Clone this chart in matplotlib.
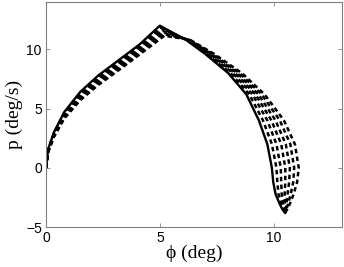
import matplotlib
matplotlib.use("Agg")
import matplotlib.pyplot as plt

# rising branch: shared phi samples (deg), p (deg/s) per run
phi_rise = [0, 0.1, 0.35, 0.8, 1.5, 2.3, 3.2, 4.1]
p_rise_solid = [0, 1.6, 3.0, 4.7, 6.4, 7.8, 9.1, 10.4]
p_rise_dashed = [
    [0, 1.56, 2.93, 4.61, 6.28, 7.67, 8.96, 10.26],
    [0, 1.52, 2.87, 4.52, 6.17, 7.53, 8.82, 10.12],
    [0, 1.48, 2.8, 4.43, 6.05, 7.4, 8.68, 9.98],
    [0, 1.43, 2.73, 4.33, 5.93, 7.27, 8.53, 9.83],
    [0, 1.39, 2.67, 4.24, 5.82, 7.13, 8.39, 9.69],
    [0, 1.35, 2.6, 4.15, 5.7, 7.0, 8.25, 9.55],
]

# switching point (peak) per run
peak_solid = (5.0, 12.0)
peak_phi_dashed = [5.03, 5.07, 5.1, 5.13, 5.17, 5.2]
peak_p_dashed = [11.86, 11.72, 11.58, 11.43, 11.29, 11.15]

# falling branch: shared p samples, phi per run
p_fall = [10.8, 9.6, 8.0, 6.2, 4.0, 2.0, 0.0, -1.2, -2.2, -3.0, -3.5, -3.8]
phi_fall_solid = [6.15, 7.0, 8.0, 8.8, 9.35, 9.72, 9.92, 9.98, 10.08, 10.25, 10.38, 10.5]
phi_fall_dashed = [
    [6.18, 7.07, 8.1, 8.93, 9.53, 9.92, 10.12, 10.16, 10.21, 10.33, 10.42, 10.5],
    [6.21, 7.13, 8.2, 9.07, 9.72, 10.12, 10.31, 10.33, 10.35, 10.41, 10.45, 10.5],
    [6.24, 7.2, 8.3, 9.2, 9.9, 10.33, 10.51, 10.51, 10.48, 10.49, 10.49, 10.5],
    [6.27, 7.27, 8.4, 9.33, 10.08, 10.53, 10.71, 10.68, 10.61, 10.56, 10.53, 10.5],
    [6.3, 7.33, 8.5, 9.47, 10.27, 10.73, 10.9, 10.86, 10.75, 10.64, 10.56, 10.5],
    [6.33, 7.4, 8.6, 9.6, 10.45, 10.93, 11.1, 11.03, 10.88, 10.72, 10.6, 10.5],
]


def plot_phase():
    plt.rcParams["lines.scale_dashes"] = False
    fig = plt.figure(figsize=(3.44, 2.67), dpi=100)
    ax = fig.add_axes([0.1337, 0.1498, 0.8605, 0.8427])

    for i in range(len(p_rise_dashed)):
        x = phi_rise + [peak_phi_dashed[i]] + phi_fall_dashed[i]
        y = p_rise_dashed[i] + [peak_p_dashed[i]] + p_fall
        ax.plot(x, y, color="k", lw=1.8, dashes=(3.2, 2.4))

    x = phi_rise + [peak_solid[0]] + phi_fall_solid
    y = p_rise_solid + [peak_solid[1]] + p_fall
    ax.plot(x, y, color="k", lw=1.7)

    ax.set_xlim([0, 13])
    ax.set_ylim([-5, 14])
    ax.set_xticks([0, 5, 10])
    ax.set_yticks([-5, 0, 5, 10])
    ax.tick_params(direction="in", length=3, width=0.6, color="#808080",
                   top=True, right=True, labelsize=10, pad=3)
    for lab in ax.get_xticklabels() + ax.get_yticklabels():
        lab.set_family(["Liberation Sans", "DejaVu Sans"])
    for s in ax.spines.values():
        s.set_color("#808080")
        s.set_linewidth(0.8)

    ax.set_xlabel("\u03d5 (deg)", fontsize=14, family=["Liberation Serif", "DejaVu Serif"], labelpad=0)
    ax.set_ylabel("p (deg/s)", fontsize=14, family=["Liberation Serif", "DejaVu Serif"], labelpad=2)

    fig.savefig("out.png", dpi=100)


if __name__ == "__main__":
    plot_phase()
